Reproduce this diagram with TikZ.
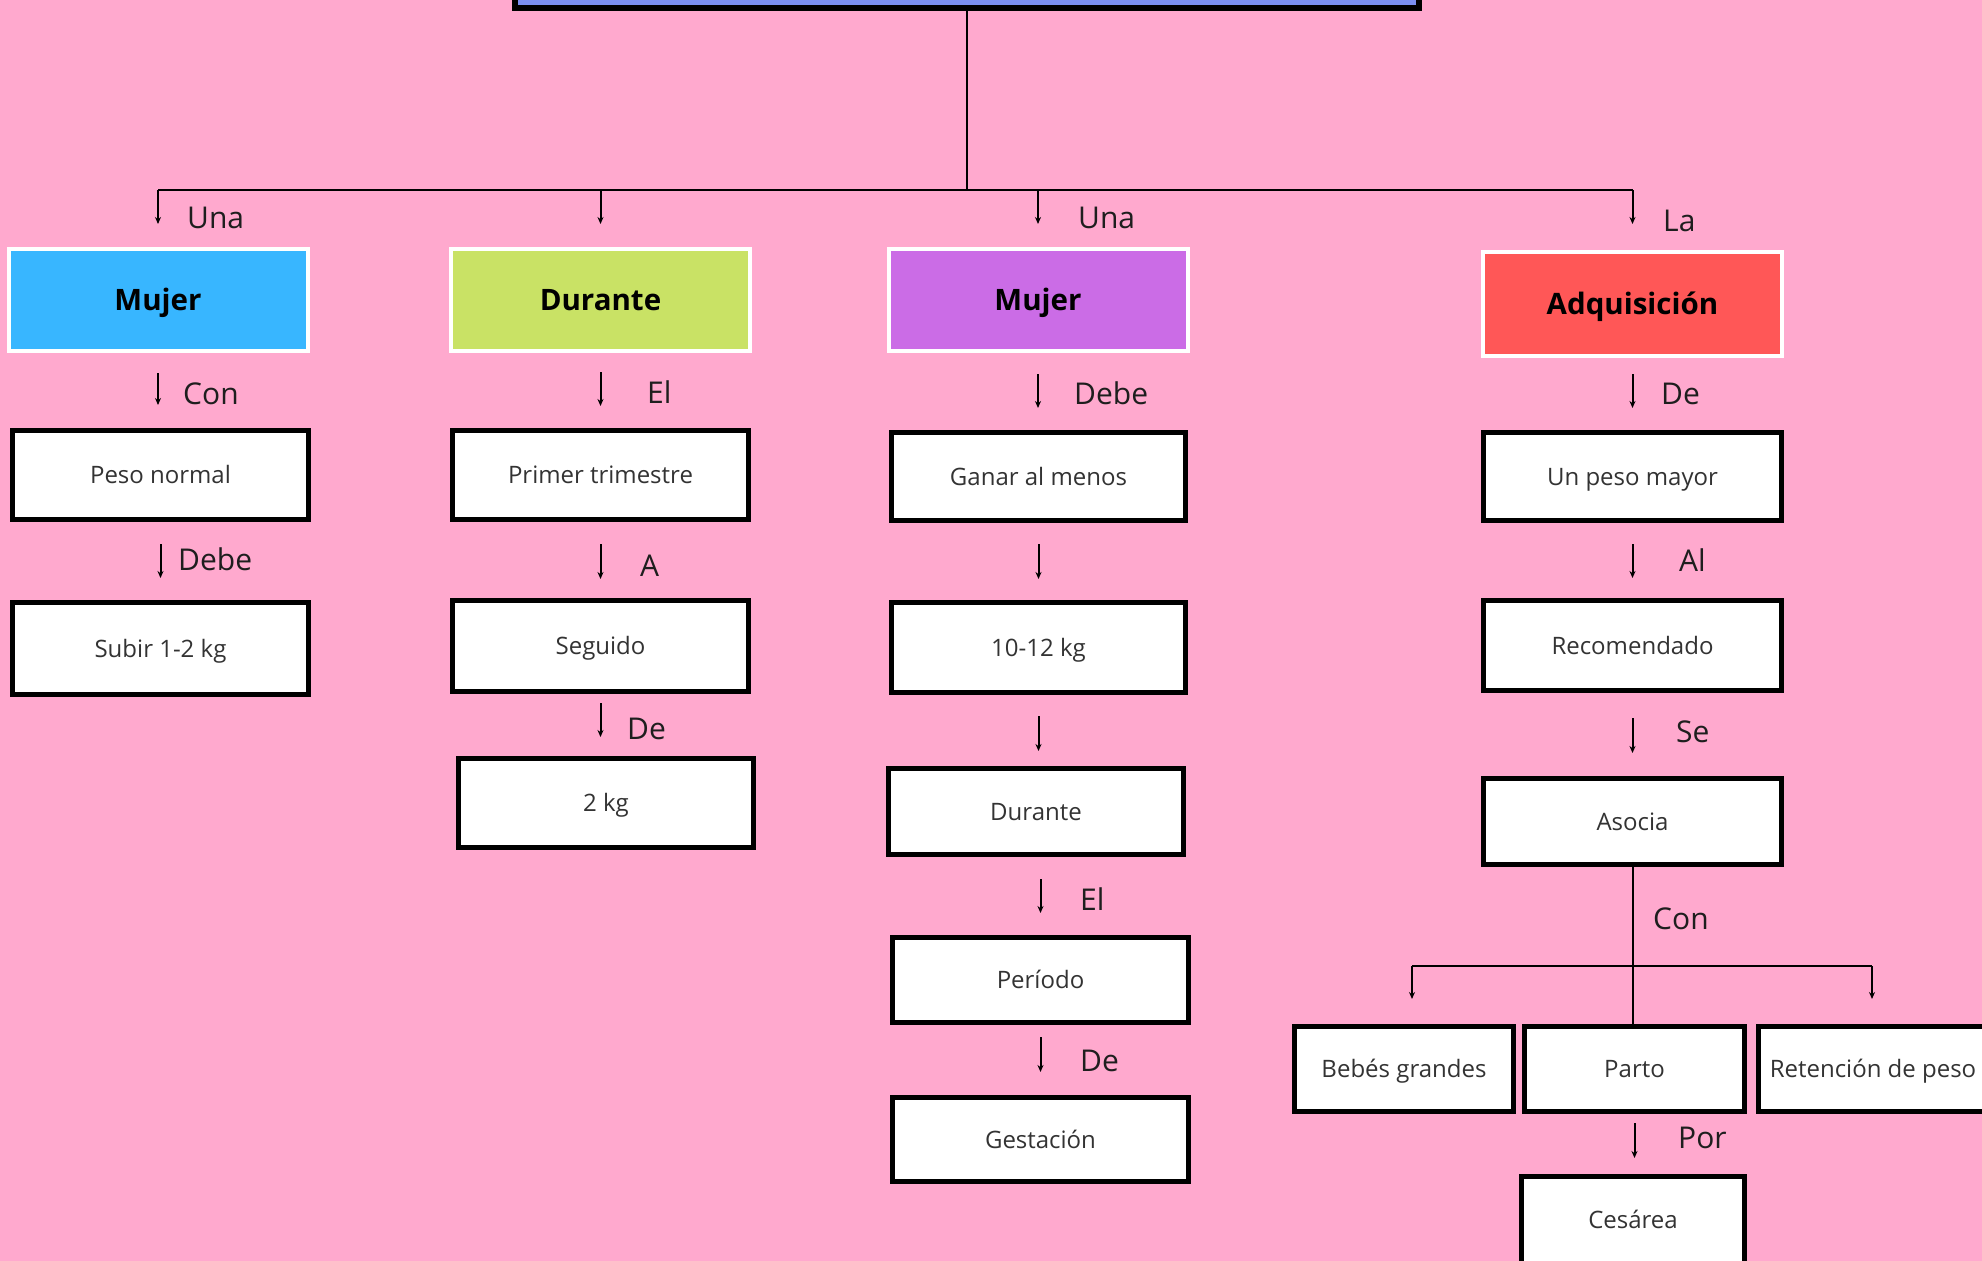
\documentclass[tikz,border=0pt]{standalone}
\usepackage{fontspec}
\setmainfont{Open Sans}
\usetikzlibrary{arrows.meta,calc}
\definecolor{bg}{HTML}{FFA9CE}
\definecolor{topc}{HTML}{7B8FF0}
\definecolor{cblue}{HTML}{38B6FF}
\definecolor{cgreen}{HTML}{C9E265}
\definecolor{cpurple}{HTML}{CB6CE6}
\definecolor{cred}{HTML}{FF5757}
\definecolor{txt}{HTML}{333333}
\definecolor{labc}{HTML}{1E1E1E}
\begin{document}
\begin{tikzpicture}[x=1pt,y=-1pt,
  wbox/.style={draw=black, line width=5pt, fill=white, inner sep=0pt,
    font=\fontsize{24}{28}\selectfont, text=txt, text height=17pt, text depth=0pt},
  cbox/.style={draw=white, line width=4pt, inner sep=0pt, minimum width=299pt, minimum height=102pt,
    font=\bfseries\fontsize{29.5}{34}\selectfont, text=black, text height=21pt, text depth=0pt},
  lab/.style={anchor=west, inner sep=0pt, font=\fontsize{30}{34}\selectfont, text=labc,
    text height=21.5pt, text depth=0pt},
  arr/.style={line width=2pt, -{Stealth[length=7pt,width=6pt]}},
  link/.style={line width=2pt}
]
\useasboundingbox (0,0) rectangle (1982,1261);
\fill[bg] (0,0) rectangle (1982,1261);

% top box (cut off)
\node[draw=black, line width=6pt, fill=topc, inner sep=0pt, minimum width=904pt, minimum height=70pt] (top) at (967,-27) {};

% level 1 coloured boxes
\node[cbox, fill=cblue]   (m1) at (158,300)    {Mujer};
\node[cbox, fill=cgreen]  (m2) at (600.5,300)  {Durante};
\node[cbox, fill=cpurple] (m3) at (1038,300)   {Mujer};
\node[cbox, fill=cred, minimum height=104pt] (m4) at (1632.5,304) {Adquisición};

% column 1
\node[wbox, minimum width=296pt, minimum height=89pt] (a1) at (160.5,475)   {Peso normal};
\node[wbox, minimum width=296pt, minimum height=92pt] (a2) at (160.5,648.5) {Subir 1-2 kg};
% column 2
\node[wbox, minimum width=296pt, minimum height=89pt] (b1) at (600.5,475) {Primer trimestre};
\node[wbox, minimum width=296pt, minimum height=91pt] (b2) at (600.5,646) {Seguido};
\node[wbox, minimum width=295pt, minimum height=89pt] (b3) at (606,803)   {2 kg};
% column 3
\node[wbox, minimum width=294pt, minimum height=88pt] (c1) at (1038.5,476.5) {Ganar al menos};
\node[wbox, minimum width=294pt, minimum height=90pt] (c2) at (1038.5,647.5) {10-12 kg};
\node[wbox, minimum width=295pt, minimum height=86pt] (c3) at (1036,811.5)   {Durante};
\node[wbox, minimum width=296pt, minimum height=85pt] (c4) at (1040.5,980)   {Período};
\node[wbox, minimum width=296pt, minimum height=84pt] (c5) at (1040.5,1139.5) {Gestación};
% column 4
\node[wbox, minimum width=298pt, minimum height=88pt] (d1) at (1632.5,476.5) {Un peso mayor};
\node[wbox, minimum width=298pt, minimum height=90pt] (d2) at (1632.5,645.5) {Recomendado};
\node[wbox, minimum width=298pt, minimum height=86pt] (d3) at (1632.5,821.5) {Asocia};
\node[wbox, minimum width=219pt, minimum height=85pt] (e1) at (1404,1069)   {Bebés grandes};
\node[wbox, minimum width=220pt, minimum height=85pt] (e2) at (1634.5,1069) {Parto};
\node[wbox, minimum width=229pt, minimum height=85pt] (e3) at (1873,1069)   {Retención de peso};
\node[wbox, minimum width=223pt, minimum height=87pt] (e4) at (1633,1220)   {Cesárea};

% trunk and top level branches
\coordinate (j) at (967,190);
\draw[link] (top.south) -- (j);
\draw[link] (m1.north |- j) -- (m4.north |- j);
\draw[arr, shorten >=23pt] (m1.north |- j) -- (m1.north);
\draw[arr, shorten >=23pt] (m2.north |- j) -- (m2.north);
\draw[arr, shorten >=23pt] (m3.north |- j) -- (m3.north);
\draw[arr, shorten >=26pt] (m4.north |- j) -- (m4.north);

\node[lab] (l1) at (187,218)  {Una};
\node[lab] (l2) at (1078,218) {Una};
\node[lab] (l3) at (1663,221) {La};

% column 1 arrows
\draw[arr, shorten <=20pt, shorten >=23pt] (m1.south) -- (m1.south |- a1.north);
\draw[arr, shorten <=22pt, shorten >=22pt] (a1.south) -- (a1.south |- a2.north);
\node[lab] (la1) at (183,394) {Con};
\node[lab] (la2) at (178,560) {Debe};

% column 2 arrows
\draw[arr, shorten <=19pt, shorten >=22pt] (m2.south) -- (m2.south |- b1.north);
\draw[arr, shorten <=22pt, shorten >=19pt] (b1.south) -- (b1.south |- b2.north);
\draw[arr, shorten <=9pt, shorten >=19pt] (b2.south) -- (b2.south |- b3.north);
\node[lab] (lb1) at (647,393) {El};
\node[lab] (lb2) at (640,566) {A};
\node[lab] (lb3) at (627,729) {De};

% column 3 arrows
\draw[arr, shorten <=21pt, shorten >=22pt] (m3.south) -- (m3.south |- c1.north);
\draw[arr, shorten <=21pt, shorten >=21pt] (c1.south) -- (c1.south |- c2.north);
\draw[arr, shorten <=21pt, shorten >=15pt] (c2.south) -- (c2.south |- c3.north);
\draw[arr, shorten <=22pt, shorten >=22pt] (c3.south -| c4.north) -- (c4.north);
\draw[arr, shorten <=12pt, shorten >=23pt] (c4.south) -- (c5.north);
\node[lab] (lc1) at (1074,394) {Debe};
\node[lab] (lc2) at (1080,900) {El};
\node[lab] (lc3) at (1080,1061) {De};

% column 4 arrows
\draw[arr, shorten <=16pt, shorten >=22pt] (m4.south) -- (d1.north);
\draw[arr, shorten <=21pt, shorten >=20pt] (d1.south) -- (d2.north);
\draw[arr, shorten <=25pt, shorten >=23pt] (d2.south) -- (d3.north);
\node[lab] (ld1) at (1661,394) {De};
\node[lab] (ld2) at (1679,561) {Al};
\node[lab] (ld3) at (1676,732) {Se};

% Asocia branches
\coordinate (kl) at (1412,966);
\coordinate (kr) at (1872,966);
\draw[link] (d3.south) -- (d3.south |- e2.north);
\draw[link] (kl) -- (kr);
\draw[arr, shorten >=25pt] (kl) -- (kl |- e1.north);
\draw[arr, shorten >=25pt] (kr) -- (kr |- e3.north);
\node[lab] (le1) at (1653,919) {Con};

\draw[arr, shorten <=9pt, shorten >=16pt] (e2.south) -- (e2.south |- e4.north);
\node[lab] (le2) at (1678,1138) {Por};
\end{tikzpicture}
\end{document}
